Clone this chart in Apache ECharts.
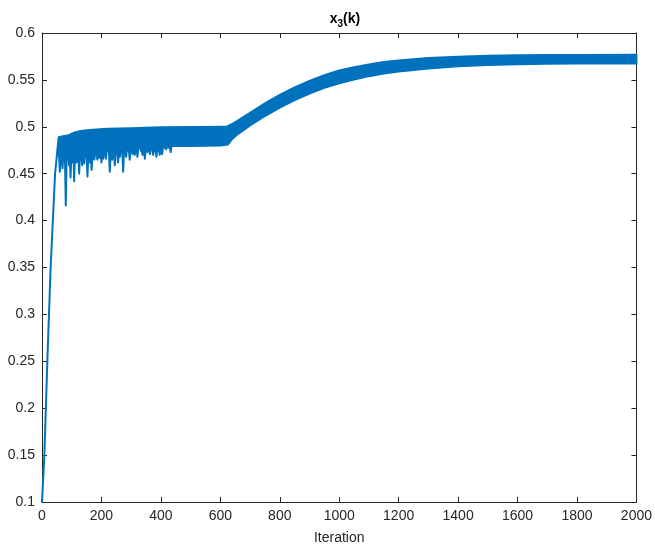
<!DOCTYPE html>
<html>
<head>
<meta charset="utf-8">
<script src="https://cdn.jsdelivr.net/npm/echarts@6/dist/echarts.min.js"></script>
<style>
  html, body { margin: 0; padding: 0; background: #ffffff; }
  #chart { width: 655px; height: 550px; }
</style>
</head>
<body>
<div id="chart"></div>
<script>
// x3(k) over 2000 iterations. The iterate oscillates every step, so the
// trace is drawn as the band between its upper and lower envelopes.

// Axis ticks
const xTicks = [0, 200, 400, 600, 800, 1000, 1200, 1400, 1600, 1800, 2000];
const yTicks = [0.1, 0.15, 0.2, 0.25, 0.3, 0.35, 0.4, 0.45, 0.5, 0.55, 0.6];

// Upper envelope of the trace: [iteration, x3]
const upperEnvelope = [
  [0, 0.1], [8, 0.15], [18, 0.25], [29, 0.35], [44, 0.45], [56, 0.489],
  [70, 0.490], [90, 0.491], [110, 0.494], [130, 0.4955], [160, 0.4965],
  [220, 0.498], [300, 0.4985], [400, 0.4995], [620, 0.500],
  [640, 0.503], [660, 0.507], [680, 0.511], [700, 0.515], [750, 0.525],
  [800, 0.534], [850, 0.542], [900, 0.549], [950, 0.555], [1000, 0.560],
  [1050, 0.5635], [1100, 0.5665], [1150, 0.569], [1200, 0.5708],
  [1300, 0.5733], [1400, 0.5748], [1500, 0.5757], [1600, 0.5762],
  [1700, 0.5765], [1800, 0.5766], [2000, 0.5767]
];

// Lower envelope of the trace, including the downward excursions: [iteration, x3]
const lowerEnvelope = [
  [0, 0.1], [8, 0.15], [18, 0.25], [29, 0.35], [44, 0.45], [56, 0.488],
  [57, 0.471], [60, 0.452], [63, 0.471],
  [66, 0.471], [69, 0.456], [72, 0.471],
  [77, 0.471], [80, 0.416], [83, 0.471],
  [88, 0.471], [91, 0.459], [93, 0.471], [96, 0.446], [99, 0.471],
  [101, 0.472], [104, 0.462], [106, 0.472], [108, 0.442], [111, 0.472],
  [113, 0.472], [116, 0.462], [119, 0.472],
  [122, 0.472], [125, 0.450], [128, 0.472],
  [132, 0.473], [135, 0.459], [138, 0.473], [142, 0.461], [145, 0.473],
  [150, 0.473], [153, 0.447], [156, 0.473],
  [157, 0.473], [160, 0.462], [163, 0.473], [167, 0.454], [170, 0.473],
  [173, 0.473], [176, 0.465], [179, 0.473],
  [183, 0.474], [186, 0.465], [189, 0.474], [193, 0.467], [196, 0.474],
  [197, 0.474], [200, 0.462], [203, 0.474], [206, 0.466], [209, 0.474],
  [212, 0.474], [215, 0.466], [218, 0.474],
  [225, 0.475], [228, 0.452], [231, 0.475],
  [233, 0.475], [236, 0.465], [239, 0.475],
  [242, 0.475], [245, 0.459], [248, 0.475],
  [253, 0.475], [256, 0.462], [259, 0.475], [262, 0.468], [265, 0.475],
  [270, 0.475], [273, 0.452], [276, 0.475],
  [280, 0.476], [283, 0.468], [286, 0.476],
  [292, 0.476], [295, 0.465], [298, 0.476],
  [302, 0.476], [305, 0.471], [308, 0.476], [312, 0.470], [315, 0.476],
  [318, 0.477], [321, 0.468], [324, 0.477],
  [331, 0.477], [334, 0.474], [336, 0.477], [338, 0.470], [341, 0.477],
  [343, 0.477], [346, 0.466], [349, 0.477],
  [351, 0.477], [354, 0.473], [357, 0.477],
  [360, 0.477], [363, 0.471], [366, 0.477],
  [371, 0.477], [374, 0.470], [377, 0.477], [379, 0.474], [381, 0.477],
  [382, 0.477], [385, 0.468], [388, 0.477],
  [393, 0.477], [396, 0.470], [399, 0.477],
  [401, 0.478], [404, 0.471], [407, 0.478],
  [414, 0.478], [417, 0.476], [420, 0.478],
  [430, 0.478], [433, 0.473], [436, 0.4795],
  [500, 0.4795], [600, 0.480], [625, 0.481],
  [640, 0.487], [660, 0.4925], [700, 0.5015], [750, 0.5115], [800, 0.5205],
  [850, 0.5285], [900, 0.5355], [950, 0.5415], [1000, 0.5465],
  [1050, 0.5505], [1100, 0.554], [1150, 0.5567], [1200, 0.559],
  [1300, 0.5622], [1400, 0.5645], [1500, 0.566], [1600, 0.5668],
  [1700, 0.5672], [1800, 0.5674], [2000, 0.5675]
];

const lineColor = '#0072BD';
const axisColor = '#262626';
const fontFamily = '"Liberation Sans", Arial, Helvetica, sans-serif';

const chart = echarts.init(document.getElementById('chart'), null, { renderer: 'canvas' });

const xMin = xTicks[0], xMax = xTicks[xTicks.length - 1];
const yMin = yTicks[0], yMax = yTicks[yTicks.length - 1];
const xStep = xTicks[1] - xTicks[0];
const yStep = +(yTicks[1] - yTicks[0]).toFixed(4);

function boxAxis(isX, primary) {
  const ax = {
    type: 'value',
    min: isX ? xMin : yMin,
    max: isX ? xMax : yMax,
    interval: isX ? xStep : yStep,
    position: isX ? (primary ? 'bottom' : 'top') : (primary ? 'left' : 'right'),
    axisLine: { show: true, onZero: false, lineStyle: { color: axisColor, width: 1 } },
    axisTick: { show: true, inside: true, length: 5, lineStyle: { color: axisColor, width: 1 } },
    splitLine: { show: false },
    axisLabel: {
      show: primary,
      color: axisColor,
      fontFamily: fontFamily,
      fontSize: 14,
      margin: 7,
      formatter: function (v) { return String(+v.toFixed(4)); }
    }
  };
  if (isX && primary) {
    ax.name = 'Iteration';
    ax.nameLocation = 'middle';
    ax.nameGap = 29;
    ax.nameTextStyle = { color: axisColor, fontFamily: fontFamily, fontSize: 14 };
  }
  return ax;
}

chart.setOption({
  backgroundColor: '#ffffff',
  animation: false,
  title: {
    text: '{b|x}{s|3}{b|(k)}',
    left: 340,
    top: 7,
    textAlign: 'center',
    textStyle: {
      rich: {
        b: { fontFamily: fontFamily, fontSize: 14, fontWeight: 'bold', color: '#000000', verticalAlign: 'top', lineHeight: 16 },
        s: { fontFamily: fontFamily, fontSize: 10, fontWeight: 'bold', color: '#000000', verticalAlign: 'top', lineHeight: 16, padding: [7, 0, 0, 0] }
      }
    }
  },
  grid: { left: 42, right: 17, top: 33, bottom: 48, containLabel: false },
  xAxis: [boxAxis(true, true), boxAxis(true, false)],
  yAxis: [boxAxis(false, true), boxAxis(false, false)],
  series: [{
    type: 'custom',
    xAxisIndex: 0,
    yAxisIndex: 0,
    silent: true,
    data: [[xMin, yMin]],
    renderItem: function (params, api) {
      const pts = [];
      for (const p of upperEnvelope) pts.push(api.coord(p));
      for (let i = lowerEnvelope.length - 1; i >= 0; i--) pts.push(api.coord(lowerEnvelope[i]));
      return {
        type: 'polygon',
        shape: { points: pts },
        style: { fill: lineColor, stroke: lineColor, lineWidth: 2, lineJoin: 'round' }
      };
    }
  }]
});
</script>
</body>
</html>
